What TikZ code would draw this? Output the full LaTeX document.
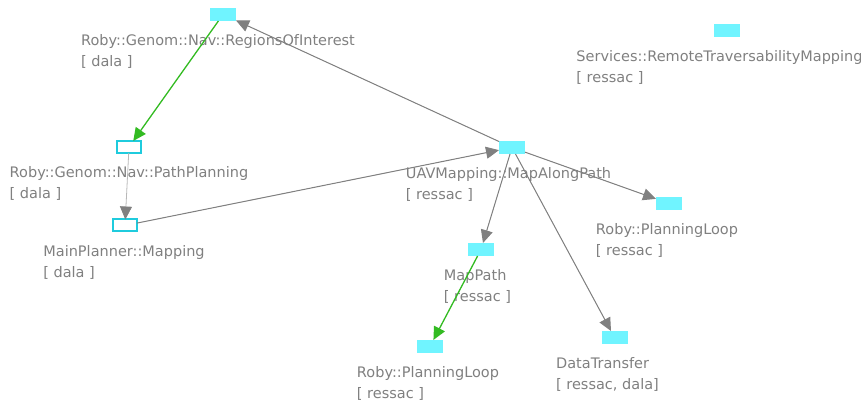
\documentclass[tikz,border=0pt]{standalone}
\usepackage{fontspec}
\setmainfont{DejaVu Sans}
\usetikzlibrary{positioning,arrows.meta}
\definecolor{TaskCyan}{HTML}{70F4FF}
\definecolor{TaskEdge}{HTML}{1FCBDD}
\definecolor{TaskText}{HTML}{808080}
\definecolor{DepGray}{HTML}{808080}
\definecolor{DepGreen}{HTML}{33BB22}
\definecolor{DepLight}{HTML}{B8B8B8}
\tikzset{
  task/.style={minimum width=26pt, minimum height=13pt, inner sep=0pt, outer sep=0pt, fill=TaskCyan},
  taskopen/.style={task, fill=white, draw=TaskEdge, line width=2pt, minimum width=24pt, minimum height=12pt},
  tasklab/.style={below=13.5pt of #1, align=left, inner sep=0pt, text=TaskText, font=\fontsize{14.5}{21}\selectfont},
  dep/.style={draw=DepGray, fill=DepGray, line width=1pt, -{Triangle[length=13pt,width=12pt]}},
  depgreen/.style={dep, draw=DepGreen, fill=DepGreen, line width=1.3pt},
  deplight/.style={draw=DepLight, line width=0.8pt, -{Triangle[length=13pt,width=12pt,color=DepGray]}}
}

\begin{document}
\begin{tikzpicture}[x=1pt,y=-1pt]
\useasboundingbox (0,0) rectangle (861,403);
% tasks
\node[task] (roi) at (223,14.5) {};
\node[task] (rtm) at (726.5,30.5) {};
\node[taskopen] (pp) at (129,147) {};
\node[taskopen] (mp) at (125,225.5) {};
\node[task] (map) at (512,147.5) {};
\node[task] (plr) at (669,203.5) {};
\node[task] (mpath) at (481,249.5) {};
\node[task] (plb) at (430,346.5) {};
\node[task] (dt) at (614.5,337.5) {};
% labels
\node[tasklab=roi, xshift=-5pt] (roilab) {Roby::Genom::Nav::RegionsOfInterest\\{[} dala ]};
\node[tasklab=rtm, xshift=-7pt] (rtmlab) {Services::RemoteTraversabilityMapping\\{[} ressac ]};
\node[tasklab=pp] (pplab) {Roby::Genom::Nav::PathPlanning\\{[} dala ]};
\node[tasklab=mp, xshift=-1pt] (mplab) {MainPlanner::Mapping\\{[} dala ]};
\node[tasklab=map, xshift=-3.5pt] (maplab) {UAVMapping::MapAlongPath\\{[} ressac ]};
\node[tasklab=plr, xshift=-2pt] (plrlab) {Roby::PlanningLoop\\{[} ressac ]};
\node[tasklab=mpath, xshift=-3.5pt] (mpathlab) {MapPath\\{[} ressac ]};
\node[tasklab=plb, xshift=-2pt] (plblab) {Roby::PlanningLoop\\{[} ressac ]};
\node[tasklab=dt, xshift=-7pt] (dtlab) {DataTransfer\\{[} ressac, dala]};
% dependencies
\draw[depgreen] (roi) -- (pp);
\draw[deplight] (pp) -- (mp);
\draw[dep] (mp) -- (map);
\draw[dep] (map) -- (roi);
\draw[dep] (map) -- (plr);
\draw[dep] (map) -- (mpath);
\draw[dep] (map) -- (dt);
\draw[depgreen] (mpath) -- (plb);
\end{tikzpicture}
\end{document}
